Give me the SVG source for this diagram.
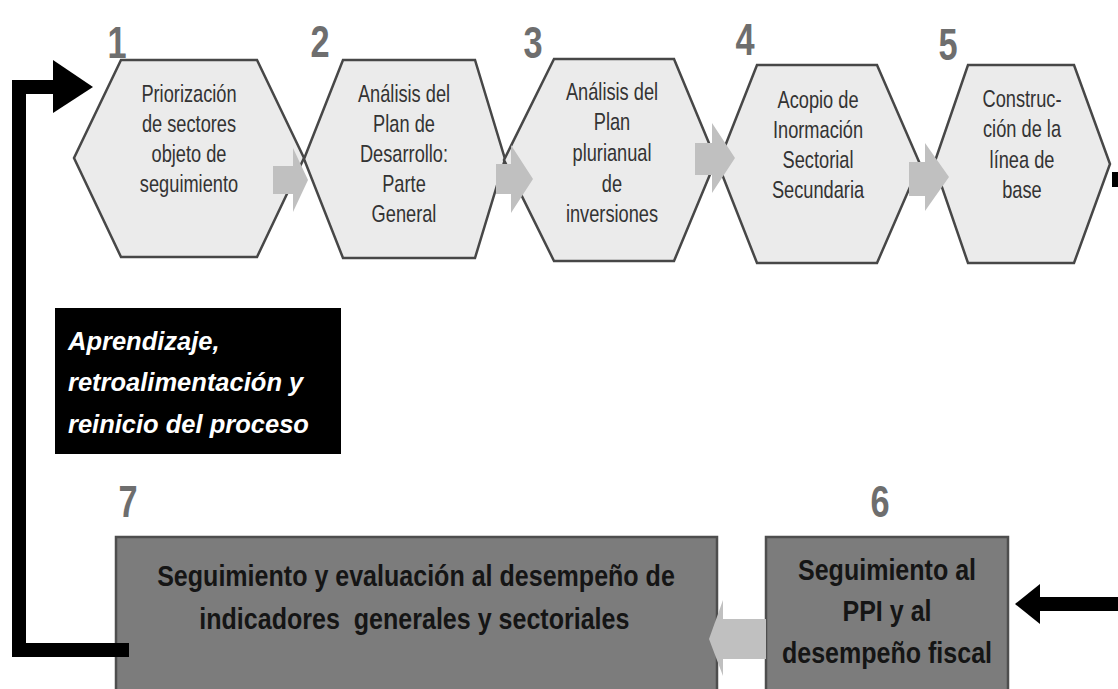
<svg xmlns="http://www.w3.org/2000/svg" width="1118" height="689" viewBox="0 0 1118 689">
  <style>
    .hex { fill: #ebebeb; stroke: #474747; stroke-width: 2.5; stroke-linejoin: miter; }
    .box { fill: #7c7c7c; stroke: #4e4e4e; stroke-width: 2.5; }
    .ht { font-family: "Liberation Sans", Arial, sans-serif; font-size: 24px; fill: #333333; text-anchor: middle; }
    .bt { font-family: "Liberation Sans", Arial, sans-serif; font-size: 30px; font-weight: bold; fill: #151515; text-anchor: middle; }
    .num { font-family: "Liberation Sans", Arial, sans-serif; font-size: 44px; font-weight: bold; fill: #6e6e6e; text-anchor: middle; }
    .fb { font-family: "Liberation Sans", Arial, sans-serif; font-size: 25.5px; font-weight: bold; font-style: italic; fill: #ffffff; }
    .garrow { fill: #c0c0c0; }
    .blk { fill: none; stroke: #000000; stroke-width: 14; }
  </style>
  <rect x="0" y="0" width="1118" height="689" fill="#ffffff"/>

  <g id="node-1">
    <polygon class="hex" points="121,60 257,60 304,158 257,257 121,257 74,158"/>
    <text class="num" transform="translate(117,58) scale(0.78,1)">1</text>
    <g transform="translate(189,0) scale(0.76,1)">
      <text class="ht" x="0" y="102">Priorización</text>
      <text class="ht" x="0" y="132">de sectores</text>
      <text class="ht" x="0" y="162">objeto de</text>
      <text class="ht" x="0" y="192">seguimiento</text>
    </g>
  </g>

  <g id="node-2">
    <polygon class="hex" points="343,60 475,60 505,159 475,258 343,258 304,159"/>
    <text class="num" transform="translate(320,57) scale(0.78,1)">2</text>
    <g transform="translate(404,0) scale(0.76,1)">
      <text class="ht" x="0" y="102">Análisis del</text>
      <text class="ht" x="0" y="132">Plan de</text>
      <text class="ht" x="0" y="162">Desarrollo:</text>
      <text class="ht" x="0" y="192">Parte</text>
      <text class="ht" x="0" y="222">General</text>
    </g>
  </g>

  <g id="node-3">
    <polygon class="hex" points="554,59 674,59 716,160 674,261 554,261 504,160"/>
    <text class="num" transform="translate(533,58) scale(0.78,1)">3</text>
    <g transform="translate(612,0) scale(0.76,1)">
      <text class="ht" x="0" y="100">Análisis del</text>
      <text class="ht" x="0" y="130">Plan</text>
      <text class="ht" x="0" y="161">plurianual</text>
      <text class="ht" x="0" y="192">de</text>
      <text class="ht" x="0" y="222">inversiones</text>
    </g>
  </g>

  <g id="node-4">
    <polygon class="hex" points="757,65 877,65 920,164 877,263 757,263 718,164"/>
    <text class="num" transform="translate(745,55) scale(0.78,1)">4</text>
    <g transform="translate(818,0) scale(0.76,1)">
      <text class="ht" x="0" y="108">Acopio de</text>
      <text class="ht" x="0" y="138">Inormación</text>
      <text class="ht" x="0" y="168">Sectorial</text>
      <text class="ht" x="0" y="198">Secundaria</text>
    </g>
  </g>

  <g id="node-5">
    <polygon class="hex" points="968,65 1074,65 1110,164 1074,263 968,263 934,164"/>
    <text class="num" transform="translate(948,60) scale(0.78,1)">5</text>
    <g transform="translate(1022,0) scale(0.76,1)">
      <text class="ht" x="0" y="107">Construc-</text>
      <text class="ht" x="0" y="137">ción de la</text>
      <text class="ht" x="0" y="168">línea de</text>
      <text class="ht" x="0" y="198">base</text>
    </g>
  </g>

  <g id="node-7">
    <rect class="box" x="116" y="537" width="601" height="160"/>
    <text class="num" transform="translate(128,517) scale(0.78,1)">7</text>
    <g transform="translate(416,0) scale(0.835,1)">
      <text class="bt" x="0" y="586">Seguimiento y evaluación al desempeño de</text>
      <text class="bt" x="-2" y="629" xml:space="preserve">indicadores  generales y sectoriales</text>
    </g>
  </g>

  <g id="node-6">
    <rect class="box" x="766" y="537" width="242" height="160"/>
    <text class="num" transform="translate(880,517) scale(0.78,1)">6</text>
    <g transform="translate(887,0) scale(0.835,1)">
      <text class="bt" x="0" y="580">Seguimiento al</text>
      <text class="bt" x="0" y="621">PPI y al</text>
      <text class="bt" x="0" y="663">desempeño fiscal</text>
    </g>
  </g>

  <g id="node-feedback">
    <rect x="55" y="308" width="286" height="146" fill="#000000"/>
    <text class="fb" x="68" y="350">Aprendizaje,</text>
    <text class="fb" x="68" y="391">retroalimentación y</text>
    <text class="fb" x="68" y="433">reinicio del proceso</text>
  </g>

  <g id="connectors">
    <polygon class="garrow" points="273,166 293,166 293,148 308,180 293,212 293,194 273,194"/>
    <polygon class="garrow" points="496,164 511,164 511,145 533,179 511,213 511,194 496,194"/>
    <polygon class="garrow" points="695,143 712,143 712,123 735,158 712,193 712,175 695,175"/>
    <polygon class="garrow" points="909,162 925,162 925,143 949,177 925,211 925,196 909,196"/>
    <polygon class="garrow" points="766,619 723,619 723,600 709,639 723,676 723,659 766,659"/>
    <path class="blk" d="M129,650 H19 V87 H56"/>
    <polygon points="53,60 93,87 53,113" fill="#000000"/>
    <path class="blk" d="M1118,604 H1038"/>
    <polygon points="1040,584 1015,604 1040,624" fill="#000000"/>
    <rect x="1112" y="172" width="6" height="15" fill="#000000"/>
  </g>
</svg>
